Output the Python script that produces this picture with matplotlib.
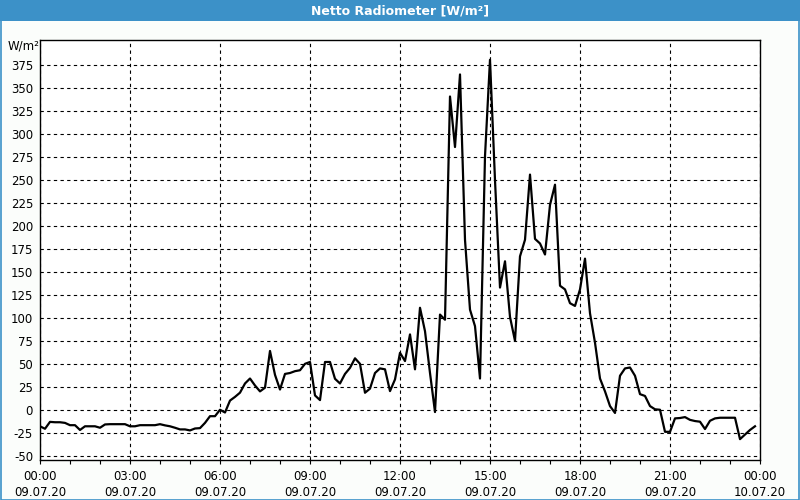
import numpy as np
import matplotlib
matplotlib.use("Agg")
import matplotlib.pyplot as plt
from matplotlib.patches import Rectangle

# 10-minute values, 00:00 .. 23:50 (W/m²)
hour00 = [-18, -20.7, -13.2, -13.6, -13.6, -14.3]
hour01 = [-16.8, -16.8, -22, -18, -18, -18]
hour02 = [-19.6, -16, -15.7, -15.7, -15.7, -15.7]
hour03 = [-18, -18, -16.8, -16.8, -16.8, -16.8]
hour04 = [-15.7, -17, -18, -19.6, -21.4, -21.4]
hour05 = [-22.5, -20.4, -20, -14.3, -7, -7]
hour06 = [0, -3, 10, 14, 18.6, 28.6]
hour07 = [34, 26.4, 20, 24, 64, 38]
hour08 = [22, 39, 40, 42, 43, 50]
hour09 = [52, 15.6, 10.5, 52, 52, 33.7]
hour10 = [28.6, 39, 45.6, 56, 50, 18.5]
hour11 = [23, 40, 45, 44, 20.3, 33]
hour12 = [62, 53, 82, 44, 111, 85.5]
hour13 = [40, -2.5, 103.6, 98, 341, 286]
hour14 = [365, 185, 109, 91, 34, 276]
hour15 = [381, 250, 133, 161.6, 101, 75]
hour16 = [167, 185, 256, 186, 181, 169]
hour17 = [223, 245, 135, 131, 116, 113]
hour18 = [131, 164.5, 105, 73, 34, 20]
hour19 = [4, -3.5, 37, 45, 46, 37]
hour20 = [17, 15, 4, 0.5, 0, -24]
hour21 = [-24, -9.4, -9, -8, -11, -12.3]
hour22 = [-13, -21, -12, -9.4, -8.7, -8.7]
hour23 = [-8.7, -8.7, -32, -27, -22, -18]

values = (hour00 + hour01 + hour02 + hour03 + hour04 + hour05 + hour06 + hour07 +
          hour08 + hour09 + hour10 + hour11 + hour12 + hour13 + hour14 + hour15 +
          hour16 + hour17 + hour18 + hour19 + hour20 + hour21 + hour22 + hour23)
hours = np.arange(len(values)) / 6.0

tick_hours = [0, 3, 6, 9, 12, 15, 18, 21, 24]
tick_labels = ["00:00\n09.07.20", "03:00\n09.07.20", "06:00\n09.07.20",
               "09:00\n09.07.20", "12:00\n09.07.20", "15:00\n09.07.20",
               "18:00\n09.07.20", "21:00\n09.07.20", "00:00\n10.07.20"]
y_ticks = list(range(-50, 376, 25))

title = "Netto Radiometer [W/m²]"
unit = "W/m²"

W, H = 800, 500
blue = "#3c91c8"
fig = plt.figure(figsize=(8, 5), dpi=100, facecolor="#fbfdfb")

# title bar and border
fig.patches.append(Rectangle((0, 1 - 21 / H), 1, 21 / H, transform=fig.transFigure,
                             facecolor=blue, edgecolor="none", zorder=0))
fig.patches.append(Rectangle((0.5 / W, 0.5 / H), 1 - 1.5 / W, 1 - 1.5 / H,
                             transform=fig.transFigure, facecolor="none",
                             edgecolor=blue, linewidth=1.2, zorder=5))
fig.text(0.5, 1 - 10.5 / H, title, color="white", fontsize=9, fontweight="bold",
         ha="center", va="center")

ax = fig.add_axes([40 / W, 40 / H, 720 / W, 420 / H])
ax.set_facecolor("white")
ax.plot(hours, values, color="black", linewidth=1.6, solid_joinstyle="round", zorder=3)

ax.set_xlim(0, 24)
ax.set_ylim(-54.7, 402.5)
ax.set_xticks(tick_hours)
ax.set_xticklabels(tick_labels, fontsize=8.5, linespacing=1.3)
ax.set_xticks(np.arange(0, 25, 1), minor=True)
ax.set_yticks(y_ticks)
ax.set_yticklabels([str(v) for v in y_ticks], fontsize=8.5)

ax.tick_params(axis="x", which="both", direction="out", length=3, width=0.8, pad=4)
ax.tick_params(axis="y", length=0, pad=5)

ax.grid(True, which="major", color="black", linestyle=(0, (3, 3)), linewidth=0.8)
for s in ax.spines.values():
    s.set_linewidth(1.0)
    s.set_color("black")

fig.text(24 / W, 1 - 46 / H, unit, fontsize=8.5, ha="center", va="center")

fig.savefig("out.png", dpi=100, facecolor=fig.get_facecolor())
